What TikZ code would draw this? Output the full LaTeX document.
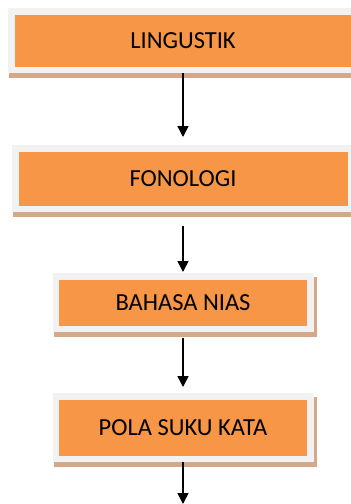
\documentclass[tikz,border=0pt]{standalone}
\usepackage{fontspec}
\setmainfont{Carlito}
\usetikzlibrary{arrows.meta,positioning,backgrounds}
\definecolor{boxorange}{RGB}{247,150,70}
\definecolor{framegray}{RGB}{242,242,242}
\definecolor{shadowtan}{RGB}{212,168,136}
\begin{document}
\begin{tikzpicture}[
    x=1pt, y=-1pt,
    >=Triangle,
    box/.style={rectangle, fill=boxorange, draw=framegray, line width=6.5pt,
                font=\fontsize{24.5}{29}\selectfont, align=center, inner sep=0pt},
    wide/.style={box, minimum width=343.5pt, minimum height=58.5pt},
    mid/.style={box, minimum width=335.5pt, minimum height=60.5pt},
    narrow/.style={box, minimum width=254.5pt},
    arr/.style={->, line width=1.6pt, draw=black,
                arrows={-Triangle[width=11pt,length=11pt]}}
  ]
  \useasboundingbox (0,0) rectangle (351,504);

  \node[wide] (ling) at (183,40.5) {LINGUSTIK};
  \node[mid] (fono) at (183,178.5) {FONOLOGI};
  \node[narrow, minimum height=52.5pt] (nias) at (183,302.5) {BAHASA NIAS};
  \node[narrow, minimum height=62.5pt] (pola) at (183,427.5) {POLA SUKU KATA};
  \coordinate (next) at (183,504);

  % shadows under the frames
  \begin{scope}[on background layer]
    \foreach \n in {ling,fono,nias,pola}
      \fill[shadowtan] ([shift={(1,5)}]\n.south west) rectangle ([shift={(3,4)}]\n.north east);
  \end{scope}

  \draw[arr, shorten >=8pt] (ling) -- (fono);
  \draw[arr, shorten <=14pt, shorten >=1pt] (fono) -- (nias);
  \draw[arr, shorten <=6pt, shorten >=6pt] (nias) -- (pola);
  \draw[arr] (pola) -- (next);
\end{tikzpicture}
\end{document}
